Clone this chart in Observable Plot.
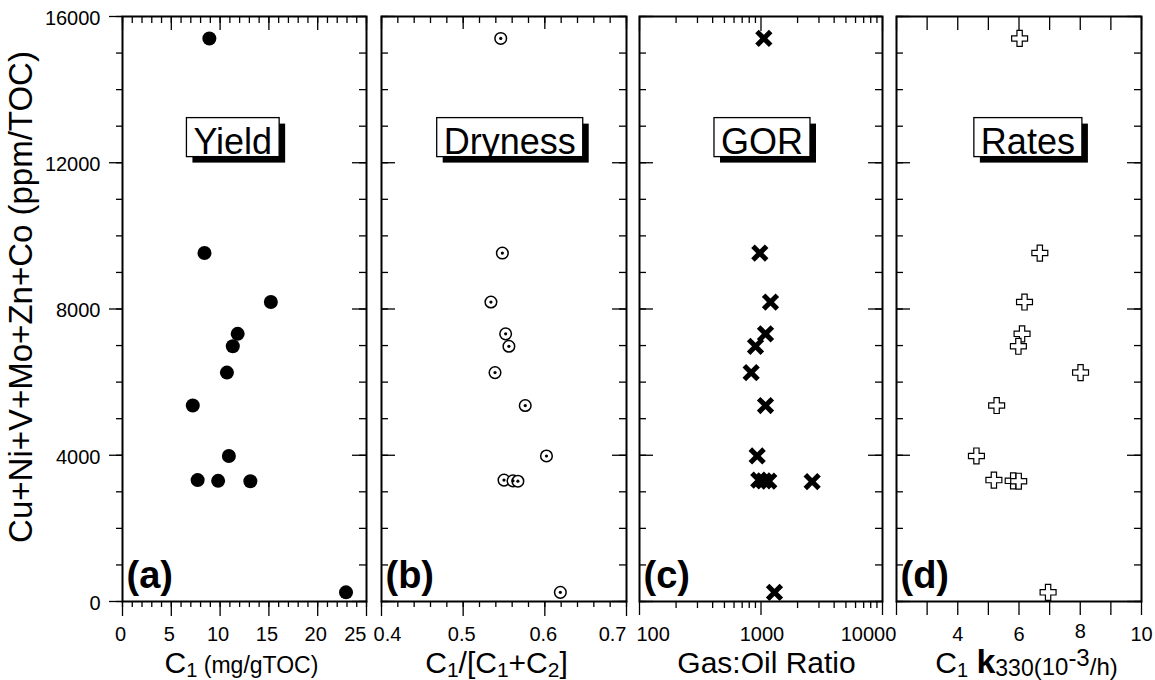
<!DOCTYPE html>
<html><head><meta charset="utf-8">
<script src="https://cdn.jsdelivr.net/npm/d3@7"></script>
<script src="https://cdn.jsdelivr.net/npm/@observablehq/plot@0.6"></script>
<style>
html,body{margin:0;padding:0;background:#fff;}
#chart{position:relative;width:1155px;height:680px;overflow:hidden;background:#fff;}
#chart svg{position:absolute;top:0;}
</style></head><body><div id="chart"></div>
<script>
// ---------------- data ----------------
const metals   = [15400, 9530, 8190, 7320, 6980, 6260, 5360, 3980, 3320, 3300, 3290, 3280, 250];
const yieldC1  = [8.9, 8.4, 15.2, 11.8, 11.3, 10.7, 7.2, 10.9, 7.7, 9.8, 13.1, null, 22.9];
const dryness  = [0.546, 0.548, 0.534, 0.552, 0.556, 0.539, 0.576, 0.602, 0.550, 0.561, 0.567, null, 0.619];
const gor      = [1055, 978, 1197, 1089, 901, 830, 1089, 930, 959, 1055, 1159, 2637, 1291];
const rateK    = [6.02, 6.68, 6.18, 6.1, 5.98, 8.01, 5.27, 4.61, 5.18, 5.81, 5.99, null, 6.95];

const yTickLabels = [0, 4000, 8000, 12000, 16000];
const aTickLabels = [0, 5, 10, 15, 20, 25];
const bTickLabels = [0.4, 0.5, 0.6, 0.7];
const cTickLabels = [100, 1000, 10000];
const dTickLabels = [4, 6, 8, 10];

const yMajorTicks = d3.range(0, 16001, 4000);
const yMinorTicks = d3.range(0, 16001, 1000);

const panelTitles = ["Yield", "Dryness", "GOR", "Rates"];
const panelTitleX = [11.3, 0.557, 1019, 6.29];
const panelTitleY = 12250;
const panelTags   = ["(a)", "(b)", "(c)", "(d)"];
const yTitle = "Cu+Ni+V+Mo+Zn+Co (ppm/TOC)";

// x-axis titles as rich text parts: [text, size, baseline shift, weight]
const xTitleParts = [
  [["C", 30, 0], ["1", 20, 4], [" (mg/gTOC)", 23, 0]],
  [["C", 30, 0], ["1", 21, 4], ["/[C", 30, 0], ["1", 21, 4], ["+C", 30, 0], ["2", 21, 4], ["]", 30, 0]],
  [["Gas:Oil Ratio", 30, 0]],
  [["C", 30, 0], ["1", 20, 4], [" ", 30, 0], ["k", 34, 0, "bold"], ["330", 23, 3], ["(10", 24, 2], ["-3", 24, -7], ["/h)", 24, 2]]
];

// ---------------- layout ----------------
const NS = "http://www.w3.org/2000/svg";
const H = 680, MT = 16, MB = 79, IH = H - MT - MB;
const FONT = "'Liberation Sans', Arial, Helvetica, sans-serif";
const TICK_FONT = 20;

const panels = [
  {left: 0, width: 374, ml: 122, mr: 8, x: {type: "linear", domain: [0, 25]}, xs: yieldC1,
   xMinor: d3.range(0, 26, 1), xMajor: d3.range(0, 26, 5), majTop: 14, majBot: 15, minor: 6,
   labelSets: [[aTickLabels.slice(0, 5), "middle", -2, 0], [aTickLabels.slice(5), "end", 0, 0]],
   leftOut: true, titleDx: -3},
  {left: 374, width: 258, ml: 7, mr: 6, x: {type: "linear", domain: [0.4, 0.7]}, xs: dryness,
   xMinor: d3.range(20, 36).map(d => d / 50), xMajor: d3.range(4, 8).map(d => d / 10), majTop: 13, majBot: 15, minor: 6,
   labelSets: [[bTickLabels.slice(0, 1), "middle", 6, 0], [bTickLabels.slice(1, 3), "middle", -1.5, 0], [bTickLabels.slice(3), "end", 0, 0]],
   leftOut: false, titleDx: -7.5},
  {left: 632, width: 257, ml: 7, mr: 7, x: {type: "log", domain: [100, 10000]}, xs: gor,
   xMinor: [200,300,400,500,600,700,800,900,2000,3000,4000,5000,6000,7000,8000,9000], xMajor: [100, 1000, 10000], majTop: 15, majBot: 14, minor: 7,
   labelSets: [[cTickLabels.slice(0, 1), "start", -3, 0], [cTickLabels.slice(1, 2), "middle", 1, 0], [cTickLabels.slice(2), "middle", -14, 0]],
   leftOut: false, titleDx: 5.5},
  {left: 889, width: 266, ml: 7, mr: 14, x: {type: "linear", domain: [2, 10]}, xs: rateK,
   xMinor: [], xMajor: d3.range(2, 11, 1), majTop: 14, majBot: 14, minor: 6,
   labelSets: [[dTickLabels.slice(0, 2), "middle", 0, 0], [dTickLabels.slice(2, 3), "middle", 0, -3], [dTickLabels.slice(3), "middle", 0, 0]],
   leftOut: false, titleDx: 7.5}
];

const chart = document.getElementById("chart");

panels.forEach((p, k) => {
  const data = metals.map((m, i) => ({y: m, x: p.xs[i]}));
  const IW = p.width - p.ml - p.mr;
  const tw = 1.3;
  const marks = [];
  // top ticks (inward)
  if (p.xMinor.length) marks.push(Plot.ruleX(p.xMinor, {x: d => d, insetBottom: IH - 7, strokeWidth: tw}));
  marks.push(Plot.ruleX(p.xMajor, {x: d => d, insetBottom: IH - p.majTop, strokeWidth: tw}));
  // bottom ticks (outward)
  if (p.xMinor.length) marks.push(Plot.ruleX(p.xMinor, {x: d => d, insetTop: IH, insetBottom: -p.minor, strokeWidth: tw}));
  marks.push(Plot.ruleX(p.xMajor, {x: d => d, insetTop: IH, insetBottom: -p.majBot, strokeWidth: tw}));
  // left ticks
  if (p.leftOut) {
    marks.push(Plot.ruleY(yMinorTicks, {y: d => d, insetLeft: -6, insetRight: IW, strokeWidth: tw}));
    marks.push(Plot.ruleY(yMajorTicks, {y: d => d, insetLeft: -13, insetRight: IW, strokeWidth: tw}));
  } else {
    marks.push(Plot.ruleY(yMinorTicks, {y: d => d, insetRight: IW - 7, strokeWidth: tw}));
    marks.push(Plot.ruleY(yMajorTicks, {y: d => d, insetRight: IW - 14, strokeWidth: tw}));
  }
  // right ticks (inward)
  marks.push(Plot.ruleY(yMinorTicks, {y: d => d, insetLeft: IW - 7, strokeWidth: tw}));
  marks.push(Plot.ruleY(yMajorTicks, {y: d => d, insetLeft: IW - 14, strokeWidth: tw}));
  marks.push(Plot.frame({strokeWidth: 2}));

  // x tick labels
  for (const [vals, anchor, dx, dyOff] of p.labelSets) {
    marks.push(Plot.text(vals, {x: d => d, text: d => String(d), frameAnchor: "bottom", lineAnchor: "bottom",
      dy: 39 + dyOff, dx, textAnchor: anchor, fontSize: TICK_FONT}));
  }
  // y tick labels + y title on first panel
  if (k === 0) {
    marks.push(Plot.text(yTickLabels, {y: d => d, text: d => String(d), frameAnchor: "left", textAnchor: "end",
      dx: -22, dy: 2, fontSize: TICK_FONT}));
    marks.push(Plot.text([yTitle], {text: d => d, frameAnchor: "left", textAnchor: "middle", rotate: -90,
      lineAnchor: "bottom", dx: -91, dy: -12, fontSize: 33}));
  }

  // data marks
  if (k === 0) {
    marks.push(Plot.dot(data, {x: "x", y: "y", r: 7, fill: "black"}));
  } else if (k === 1) {
    marks.push(Plot.dot(data, {x: "x", y: "y", r: 5.8, fill: "white", stroke: "black", strokeWidth: 1.5}));
    marks.push(Plot.dot(data, {x: "x", y: "y", r: 1.6, fill: "black"}));
  } else if (k === 2) {
    marks.push(Plot.dot(data, {x: "x", y: "y", symbol: "times", r: 6.3, stroke: "black", strokeWidth: 5}));
  } else {
    marks.push(Plot.dot(data, {x: "x", y: "y", symbol: "cross", r: 6.7, fill: "white", stroke: "black", strokeWidth: 1.2}));
  }

  // panel title (boxed later)
  marks.push(Plot.text([{t: panelTitles[k], x: panelTitleX[k], y: panelTitleY}],
    {x: "x", y: "y", text: "t", lineAnchor: "bottom", fontSize: 36}));
  // panel tag
  marks.push(Plot.text([panelTags[k]], {text: d => d, frameAnchor: "bottom-left", textAnchor: "start",
    lineAnchor: "bottom", dx: 4, dy: -14, fontSize: 38, fontWeight: "bold"}));
  // x title placeholder
  marks.push(Plot.text(["XTITLE" + k], {text: d => d, frameAnchor: "bottom", lineAnchor: "bottom",
    dy: 71, dx: p.titleDx, fontSize: 30}));

  const svg = Plot.plot({
    width: p.width, height: H,
    marginLeft: p.ml, marginRight: p.mr, marginTop: MT, marginBottom: MB,
    x: {...p.x, axis: null},
    y: {domain: [0, 16000], axis: null},
    style: {background: "transparent", overflow: "visible", fontFamily: FONT, color: "black"},
    marks
  });
  svg.style.left = p.left + "px";
  chart.append(svg);

  // post-process: boxed titles and rich x-axis titles
  for (const el of svg.querySelectorAll("text")) {
    const s = el.textContent;
    if (s === panelTitles[k]) {
      const bb = el.getBBox();
      const g = el.parentNode;
      const tr = el.getAttribute("transform");
      const x0 = bb.x - 7, w = bb.width + 14, y0 = -36, h = 39;
      const mk = (x, y, fill, stroke) => {
        const r = document.createElementNS(NS, "rect");
        r.setAttribute("x", x); r.setAttribute("y", y);
        r.setAttribute("width", w); r.setAttribute("height", h);
        r.setAttribute("fill", fill); r.setAttribute("stroke", stroke);
        r.setAttribute("stroke-width", 1.3);
        if (tr) r.setAttribute("transform", tr);
        g.insertBefore(r, el);
      };
      mk(x0 + 6, y0 + 6, "black", "none");
      mk(x0, y0, "white", "black");
    } else if (s === "XTITLE" + k) {
      el.textContent = "";
      let prev = 0;
      for (const [t, size, shift, weight] of xTitleParts[k]) {
        const ts = document.createElementNS(NS, "tspan");
        ts.textContent = t;
        ts.setAttribute("font-size", size);
        ts.setAttribute("dy", shift - prev);
        if (weight) ts.setAttribute("font-weight", weight);
        prev = shift;
        el.appendChild(ts);
      }
    }
  }
});
</script>
</body></html>
